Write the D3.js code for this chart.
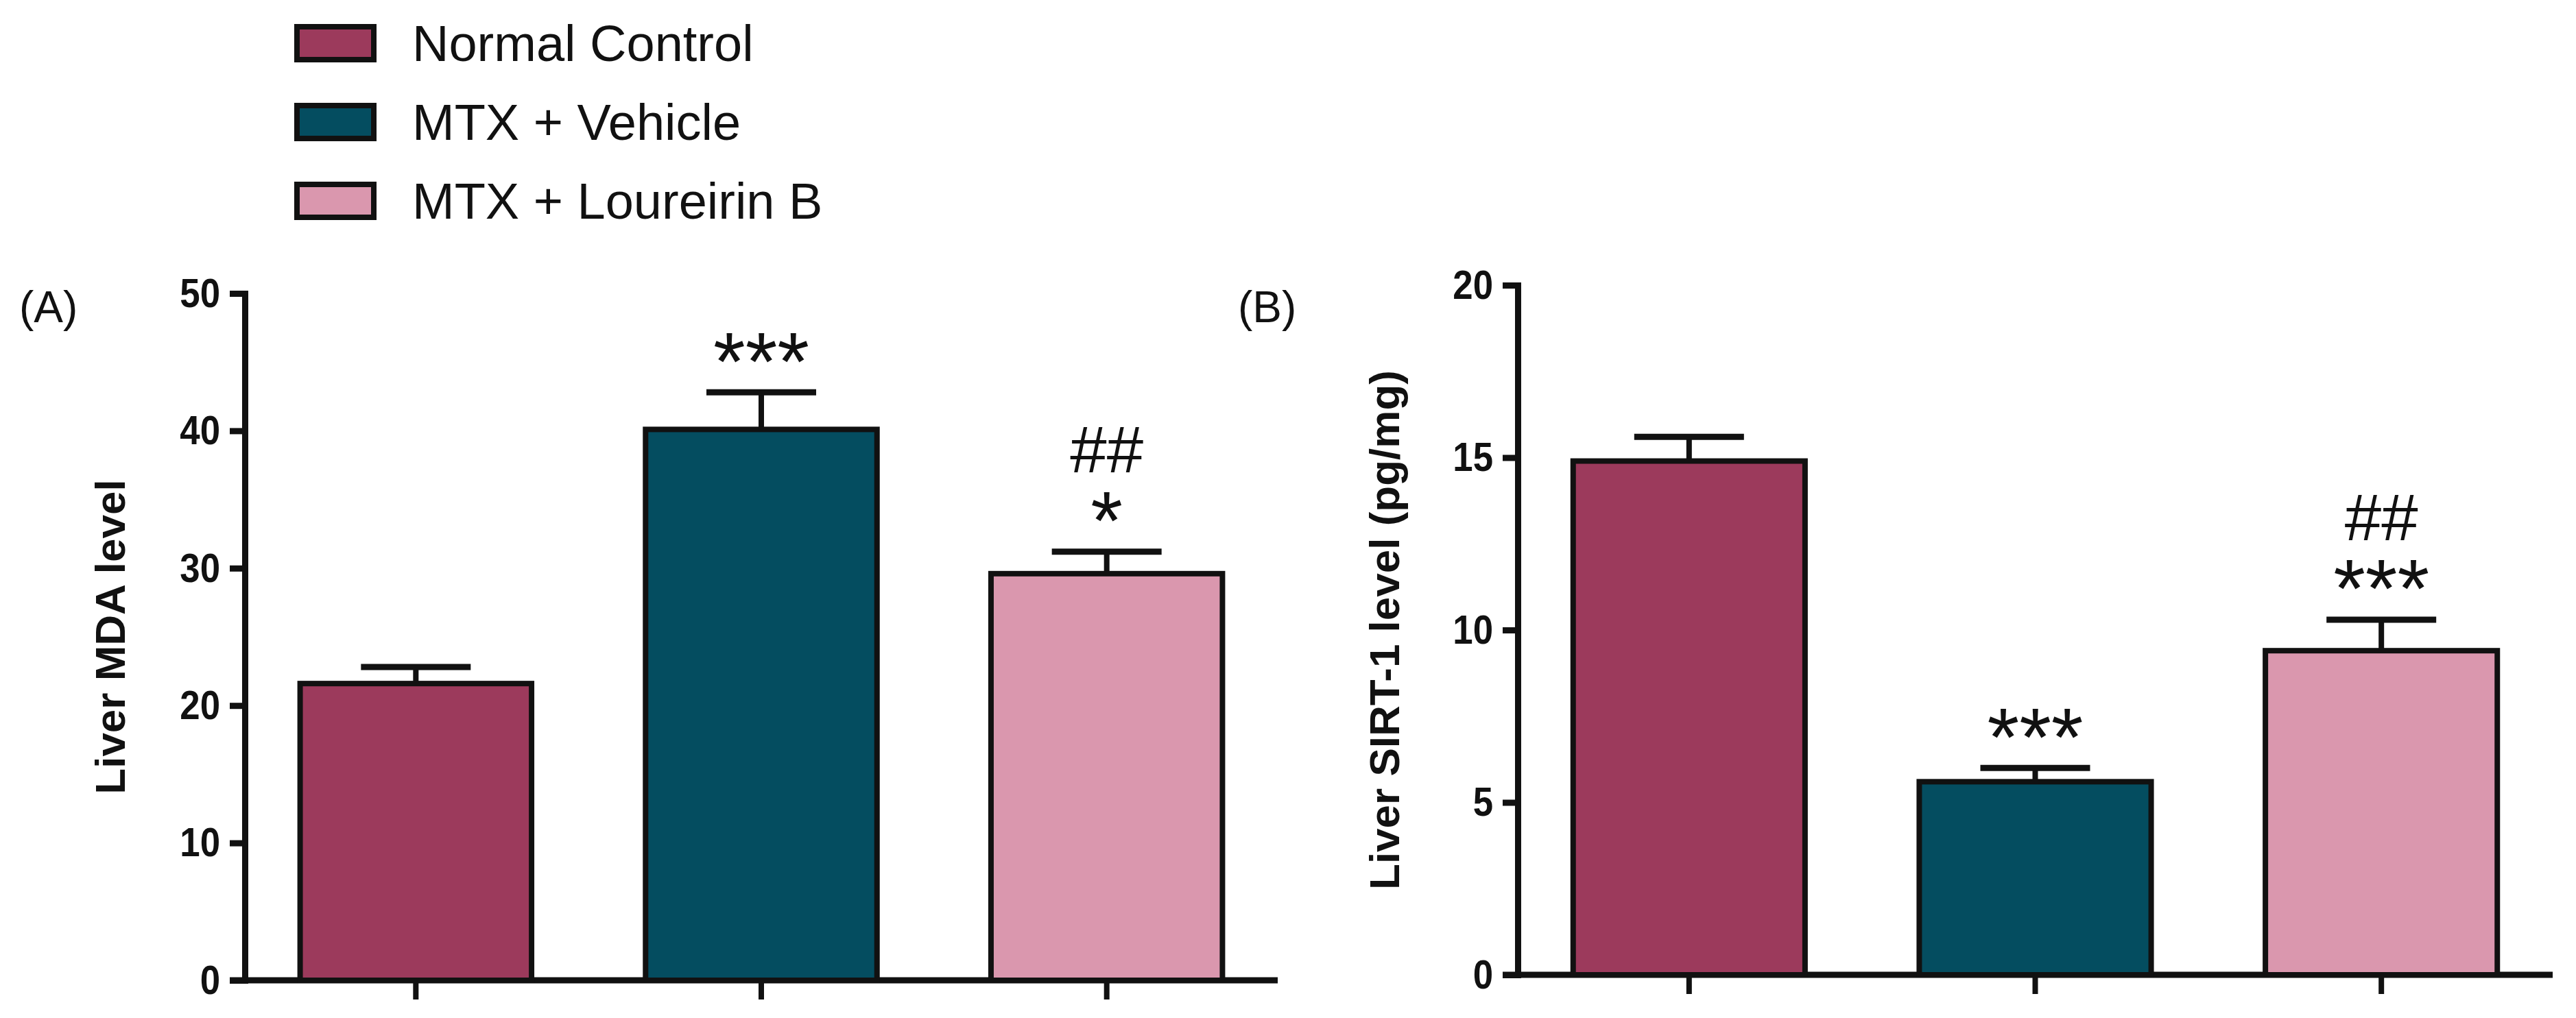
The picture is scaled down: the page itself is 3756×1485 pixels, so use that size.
<!DOCTYPE html>
<meta charset="utf-8">
<html>
<head>
<script src="https://d3js.org/d3.v7.min.js"></script>
<style>
  body { margin: 0; background: #fff; }
  text { font-family: 'Liberation Sans', Arial, sans-serif; fill: #111; }
</style>
</head>
<body>
<svg id="chart" width="3756" height="1485"></svg>
<script>
var groups = ["Normal Control", "MTX + Vehicle", "MTX + Loureirin B"];
var colors = ["#9c3a5c", "#044d60", "#da97ae"];
var mdaValues = [21.6, 40.1, 29.6];
var mdaErrors = [1.2, 2.7, 1.6];
var mdaMarks = [[], ["***"], ["##", "*"]];
var sirtValues = [14.9, 5.6, 9.4];
var sirtErrors = [0.7, 0.4, 0.9];
var sirtMarks = [[], ["***"], ["##", "***"]];

var svg = d3.select("#chart");

// legend
var leg = svg.append("g");
groups.forEach(function (g, i) {
    var y = 63 + i * 115;
    leg.append("rect").attr("x", 433).attr("y", y - 24).attr("width", 112).attr("height", 48)
        .attr("fill", colors[i]).attr("stroke", "#111").attr("stroke-width", 8);
    leg.append("text").attr("x", 601).attr("y", y + 26).style("font-size", "74px").text(g);
});

function panel(opts) {
    var g = svg.append("g");
    var y = d3.scaleLinear().domain([0, opts.max]).range([opts.y0, opts.y1]);
    var x = d3.scaleBand().domain(groups).range([opts.xa, opts.xe]).paddingInner(0.33).paddingOuter(0.16);
    var yAxis = g.append("g").attr("transform", "translate(" + opts.xa + ",0)")
        .call(d3.axisLeft(y).tickValues(d3.range(0, opts.max + 1, opts.step)).tickSize(22).tickPadding(10));
    yAxis.select(".domain").attr("stroke-width", 9).attr("stroke", "#111");
    yAxis.selectAll(".tick line").attr("stroke-width", 9).attr("stroke", "#111");
    yAxis.selectAll("text").style("font-size", "60px").style("font-weight", "bold").attr("fill", "#222")
        .attr("transform", "scale(0.88,1)").attr("x", -36 / 0.88);

    g.append("line").attr("x1", opts.xa - 22).attr("x2", opts.xe).attr("y1", opts.y0).attr("y2", opts.y0)
        .attr("stroke", "#111").attr("stroke-width", 9);
    groups.forEach(function (d) {
        g.append("line").attr("x1", x(d) + x.bandwidth() / 2).attr("x2", x(d) + x.bandwidth() / 2)
            .attr("y1", opts.y0).attr("y2", opts.y0 + 28).attr("stroke", "#111").attr("stroke-width", 8);
    });

    opts.values.forEach(function (v, i) {
        var cx = x(groups[i]) + x.bandwidth() / 2;
        var top = y(v + opts.errors[i]);
        g.append("line").attr("x1", cx).attr("x2", cx).attr("y1", y(v)).attr("y2", top)
            .attr("stroke", "#111").attr("stroke-width", 8);
        g.append("line").attr("x1", cx - 80).attr("x2", cx + 80).attr("y1", top).attr("y2", top)
            .attr("stroke", "#111").attr("stroke-width", 9);
        g.append("rect").attr("x", x(groups[i])).attr("y", y(v)).attr("width", x.bandwidth())
            .attr("height", opts.y0 - y(v)).attr("fill", colors[i]).attr("stroke", "#111").attr("stroke-width", 8);
        var marks = opts.marks[i];
        marks.forEach(function (m, j) {
            // center of the glyph above the error cap
            var c = top - 72 - (marks.length - 1 - j) * 78;
            var isStar = m.indexOf("*") >= 0;
            var size = isStar ? 120 : 96;
            var base = c + (isStar ? 0.57 : 0.36) * size;
            g.append("text").attr("x", cx).attr("y", base)
                .attr("text-anchor", "middle").style("font-size", size + "px").text(m);
        });
    });

    g.append("text").attr("transform", "translate(" + opts.tx + "," + ((opts.y0 + opts.y1) / 2) + ") rotate(-90)")
        .attr("text-anchor", "middle").style("font-size", "62px").style("font-weight", "bold").attr("fill", "#222")
        .text(opts.title);
    g.append("text").attr("x", opts.lx).attr("y", opts.ly).style("font-size", "64px").text(opts.label);
}

panel({ xa: 357, xe: 1863, y0: 1430, y1: 428, max: 50, step: 10, values: mdaValues, errors: mdaErrors,
        marks: mdaMarks, title: "Liver MDA level", tx: 182, label: "(A)", lx: 28, ly: 470 });
panel({ xa: 2213, xe: 3722, y0: 1422, y1: 416, max: 20, step: 5, values: sirtValues, errors: sirtErrors,
        marks: sirtMarks, title: "Liver SIRT-1 level (pg/mg)", tx: 2040, label: "(B)", lx: 1805, ly: 470 });
</script>
</body>
</html>
